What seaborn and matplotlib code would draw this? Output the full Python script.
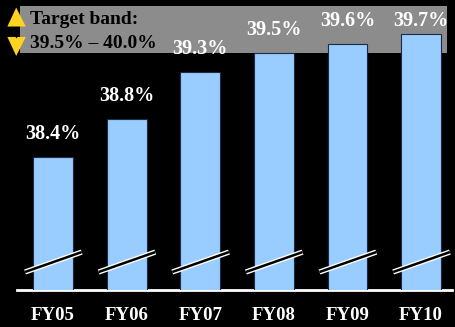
import matplotlib
matplotlib.use("Agg")
import matplotlib.pyplot as plt
from matplotlib.patches import Rectangle, Polygon
import seaborn as sns
import pandas as pd

years = ["FY05", "FY06", "FY07", "FY08", "FY09", "FY10"]
margins = [38.4, 38.8, 39.3, 39.5, 39.6, 39.7]
band_low, band_high = 39.5, 40.0
band_title = "Target band:"
band_range = "39.5% \u2013 40.0%"

sns.set_theme(style="dark")
plt.rcParams["font.family"] = ["Liberation Serif", "DejaVu Serif"]

df = pd.DataFrame({"year": years, "margin": margins})

fig = plt.figure(figsize=(4.55, 3.27), dpi=100, facecolor="black")
ax = fig.add_axes([0, 37 / 327, 1, 290 / 327])
ax.set_facecolor("black")

sns.barplot(data=df, x="year", y="margin", color="#99CCFF", saturation=1,
            width=0.54, edgecolor="#1a2a4a", linewidth=0.8, ax=ax, zorder=3)

ax.set_xlim(-0.72, 5.46)
ax.set_ylim(37.0, 40.06)

# target band behind the bars
ax.add_patch(Rectangle((-0.45, band_low), 5.80, band_high - band_low,
                       facecolor="#8c8c8c", edgecolor="none", zorder=1))

# value labels, kept inside the top of the plot
for i, v in enumerate(margins):
    ax.text(i, min(v + 0.19, 39.79), f"{v}%", ha="center", va="baseline",
            color="white", fontsize=14.5, fontweight="bold", zorder=5)

# axis-break marks across each bar
for i in range(len(years)):
    ax.plot([i - 0.38, i + 0.39], [37.19, 37.40], color="white", lw=3.8,
            solid_capstyle="butt", zorder=4)
    ax.plot([i - 0.38, i + 0.39], [37.19, 37.40], color="black", lw=1.8,
            solid_capstyle="butt", zorder=4)

# double-headed arrow marking the band
ax.add_patch(Polygon([[-0.50, 39.98], [-0.62, 39.78], [-0.37, 39.78]],
                     closed=True, facecolor="#FFD21F", edgecolor="none", zorder=6))
ax.add_patch(Polygon([[-0.50, 39.47], [-0.62, 39.67], [-0.37, 39.67]],
                     closed=True, facecolor="#FFD21F", edgecolor="none", zorder=6))
ax.plot([-0.50, -0.50], [39.78, 39.67], color="black", lw=1, zorder=6)

ax.text(-0.31, 39.85, band_title, ha="left", va="center", color="black",
        fontsize=14, fontweight="bold", zorder=6)
ax.text(-0.31, 39.60, band_range, ha="left", va="center", color="black",
        fontsize=14, fontweight="bold", zorder=6)

ax.set_xticks(range(len(years)))
ax.set_xticklabels(years, color="white", fontsize=13.5, fontweight="bold")
ax.tick_params(axis="x", length=0, pad=12)
ax.set_yticks([])
ax.set_xlabel("")
ax.set_ylabel("")
for side in ["top", "left", "right"]:
    ax.spines[side].set_visible(False)
ax.spines["bottom"].set_color("white")
ax.spines["bottom"].set_linewidth(2)
ax.spines["bottom"].set_bounds(-0.49, 5.42)
ax.grid(False)

fig.savefig("out.png", dpi=100, facecolor="black")
